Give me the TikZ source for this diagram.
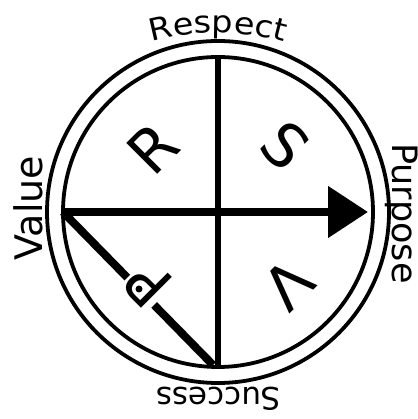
\documentclass[tikz,border=0pt]{standalone}
\usepackage{fontspec}
\setmainfont{DejaVu Sans}
\newfontfamily\respfont[FakeStretch=1.1]{DejaVu Sans}
\usetikzlibrary{arrows.meta,decorations.text}
\begin{document}
\begin{tikzpicture}[x=1pt,y=1pt,
  ring/.style={line width=3.8pt},
  vline/.style={line width=6pt},
  hline/.style={line width=8pt},
  quad/.style={font=\fontsize{60}{60}\selectfont, inner sep=0pt},
  lab/.style={inner sep=0pt, anchor=base}]
\useasboundingbox (-218,-207) rectangle (199,212);
\coordinate (O) at (0,0);
\draw[ring] (O) circle[radius=171];
\draw[ring] (O) circle[radius=155];
\coordinate (L) at (180:155);
\coordinate (Rt) at (150,0);
\coordinate (T) at (90:155);
\coordinate (B) at (270:155);
\coordinate (Bd) at (-5,-153);
\draw[vline] (T) -- (B);
\draw[hline] (L) -- (Bd);
\draw[hline, -{Triangle[length=40pt,width=50pt]}] (L) -- (Rt);
\node[quad, rotate=45] (lR) at (-65,64) {R};
\node[quad, rotate=-45] (lS) at (67,66) {S};
\node[quad, rotate=-135] (lV) at (70,-72) {V};
\node[quad, rotate=135, fill=white, inner sep=1pt] (lP) at (-70,-72) {P};
\fill (-79,-77) circle[radius=3.5];
\path[decorate, decoration={text along path, text align=center,
  text={|\respfont\fontsize{30.5}{30.5}\selectfont|Respect}}]
  (0,-71) ++(120:250) arc[start angle=120, end angle=60, radius=250];
\node[lab, rotate=180, font=\fontsize{31}{31}\selectfont] (tS) at (0.5,-175) {Success};
\node[lab, rotate=90, font=\fontsize{38}{38}\selectfont] (tV) at (-175.5,4) {Value};
\node[lab, rotate=-90, font=\fontsize{35}{35}\selectfont] (tP) at (174,-1.5) {Purpose};
\end{tikzpicture}
\end{document}
